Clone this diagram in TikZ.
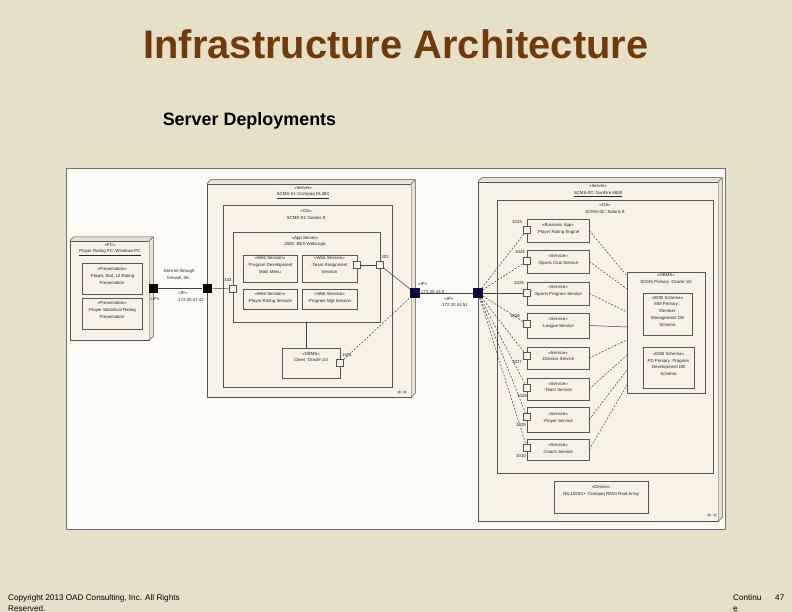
\documentclass[tikz,border=0pt]{standalone}
\usepackage{fontspec}
\setmainfont{Liberation Sans}
\usetikzlibrary{calc,fit,shadows}
\definecolor{bg}{RGB}{231,224,200}
\definecolor{framec}{RGB}{253,251,245}
\definecolor{cream}{RGB}{247,241,230}
\definecolor{creamd}{RGB}{232,224,208}
\definecolor{titlec}{RGB}{110,58,14}
\definecolor{navy}{RGB}{12,12,60}
\definecolor{edge}{RGB}{85,85,85}
\tikzset{
 box/.style={draw=edge, line width=0.5bp, fill=cream, inner sep=0pt},
 sbox/.style={box, drop shadow={shadow xshift=1bp, shadow yshift=-1bp, fill=black, opacity=0.25}},
 tiny/.style={font=\fontsize{4.4}{6.8}\selectfont, align=center, inner sep=0pt, text=black!85},
 port/.style={draw=edge, line width=0.5bp, fill=cream, minimum size=7bp, inner sep=0pt},
 bport/.style={fill=black, minimum size=9bp, inner sep=0pt},
 nport/.style={fill=navy, draw=navy, minimum size=9bp, inner sep=0pt},
 conn/.style={line width=0.5bp, draw=black!75},
 dconn/.style={conn, dash pattern=on 2bp off 1.5bp},
}
\newcommand\threed[2]{%
 \fill[creamd] (#1.north west) -- ++(#2,-#2) -- ($(#1.north east)+(#2,-#2)$) -- ($(#1.south east)+(#2,-#2)$) -- (#1.south east) -- (#1.north east) -- cycle;
 \draw[edge, line width=0.5bp] (#1.north west) -- ++(#2,-#2) -- ($(#1.north east)+(#2,-#2)$) -- ($(#1.south east)+(#2,-#2)$) -- (#1.south east) (#1.north east) -- ++(#2,-#2);}
\newcommand\compicon[2]{%
 \draw[edge, line width=0.4bp] (#1-3,#2) circle[radius=1.3bp] (#1+3,#2) circle[radius=1.3bp] (#1-1.7,#2) -- (#1+1.7,#2);}
\begin{document}
\begin{tikzpicture}[x=1bp,y=-1bp]
\useasboundingbox (0,0) rectangle (792,612);
\fill[bg] (0,0) rectangle (792,612);
\node[font=\fontsize{40}{40}\selectfont\bfseries, text=titlec] (title) at (396,44) {Infrastructure Architecture};
\node[font=\fontsize{18}{18}\selectfont\bfseries] (sub) at (249.5,121) {Server Deployments};
\node[anchor=base west, font=\fontsize{8.2}{12}\selectfont, align=left, inner sep=0pt] (copy) at (8,600) {Copyright 2013 OAD Consulting, Inc. All Rights};
\node[anchor=base west, font=\fontsize{8.2}{12}\selectfont, inner sep=0pt] (copy2) at (8,611) {Reserved.};
\node[anchor=base west, font=\fontsize{8.2}{12}\selectfont, inner sep=0pt] (cont) at (733,600) {Continu};
\node[anchor=base west, font=\fontsize{8.2}{12}\selectfont, inner sep=0pt] (cont2) at (733,611) {e};
\node[anchor=base west, font=\fontsize{8.2}{12}\selectfont, inner sep=0pt] (pg) at (775,600) {47};

% frame
\node[draw=black!55, fill=framec, line width=0.8bp, fit={(66,168) (725,529)}, inner sep=0pt] (frm) {};

% PC
\node[box, fit={(70,241) (149,340)}] (pc) {};
\threed{pc}{4}
\node[tiny] (pct) at (110,249.5) {«PC»\\\underline{Player Rating PC::Windows PC}};
\node[sbox, fit={(82,263) (142,294)}] (pres1) {};
\node[tiny] (pres1t) at (112,276) {«Presentation»\\:Player, Stat, Lit Rating\\Presentation};
\node[sbox, fit={(82,298) (142,329)}] (pres2) {};
\node[tiny] (pres2t) at (112,310) {«Presentation»\\:Player Statistical Rating\\Presentation};

% server 1
\node[box, fit={(207,184) (411,397)}] (srv1) {};
\threed{srv1}{4}
\node[tiny] (srv1t) at (303,192.5) {«Server»\\\underline{SCMS-01::Compaq DL38X}};
\node[box, fit={(223,205) (392,387)}] (os1) {};
\node[tiny] (os1t) at (306,214.5) {«OS»\\SCMS-01::Solaris 9};
\node[box, fit={(233,232) (380,322)}] (app) {};
\node[tiny] (appt) at (305,241.5) {«App Server»\\J2EE::BEA WebLogic};
\node[sbox, fit={(243,255) (297,282)}] (ws1) {};
\node[tiny] (ws1t) at (270,265) {«Web Session»\\:Program Development\\Main Menu};
\node[sbox, fit={(302,255) (357,282)}] (ws2) {};
\node[tiny] (ws2t) at (329.5,265) {«Web Session»\\:Team Assignment\\Session};
\node[sbox, fit={(243,289) (297,309)}] (ws3) {};
\node[tiny] (ws3t) at (270,298) {«Web Session»\\:Player Rating Session};
\node[sbox, fit={(302,289) (357,309)}] (ws4) {};
\node[tiny] (ws4t) at (329.5,298) {«Web Session»\\:Program Mgt Session};
\node[box, fit={(282,348) (340,378)}] (db1) {};
\node[tiny] (db1t) at (311,357) {«DBMS»\\Client :Oracle 10i};
\compicon{402}{392}

% server 2
\node[box, fit={(478,182) (718,521)}] (srv2) {};
\threed{srv2}{4}
\node[tiny] (srv2t) at (598,190.5) {«Server»\\\underline{SCMS-0C::SunFire 6800}};
\node[box, fit={(497,200) (713,473)}] (os2) {};
\node[tiny] (os2t) at (605,208.5) {«OS»\\SCMS-0C::Solaris 9};

\node[sbox, fit={(527,219) (589,242)}] (sv1) {};
\node[tiny] (sv1t) at (558,228.5) {«Business App»\\:Player Rating Engine};
\node[sbox, fit={(527,250) (589,273)}] (sv2) {};
\node[tiny] (sv2t) at (558,260) {«Service»\\:Sports Club Service};
\node[sbox, fit={(527,282) (589,305)}] (sv3) {};
\node[tiny] (sv3t) at (558,291) {«Service»\\:Sports Program Service};
\node[sbox, fit={(527,313) (589,338)}] (sv4) {};
\node[tiny] (sv4t) at (558,323) {«Service»\\:League Service};
\node[sbox, fit={(527,347) (589,369)}] (sv5) {};
\node[tiny] (sv5t) at (558,356) {«Service»\\:Division Service};
\node[sbox, fit={(527,378) (589,400)}] (sv6) {};
\node[tiny] (sv6t) at (558,387) {«Service»\\:Team Service};
\node[sbox, fit={(527,407) (589,432)}] (sv7) {};
\node[tiny] (sv7t) at (558,417.5) {«Service»\\:Player Service};
\node[sbox, fit={(527,439) (589,460)}] (sv8) {};
\node[tiny] (sv8t) at (558,448.5) {«Service»\\:Coach Service};

\node[box, fit={(627,272) (705,393)}] (db2) {};
\node[tiny] (db2t) at (666,279) {«DBMS»\\SCMS Primary :Oracle 10i};
\node[sbox, fit={(643,293) (692,335)}] (edb1) {};
\node[tiny] (edb1t) at (667.5,311) {«EDB Schema»\\MM Primary :\\Member\\Management DB\\Schema};
\node[sbox, fit={(643,347) (694,388)}] (edb2) {};
\node[tiny] (edb2t) at (668.5,364) {«EDB Schema»\\PD Primary :Program\\Development DB\\Schema};

\node[box, fit={(554,481) (648,513)}] (stor) {};
\node[tiny] (stort) at (601,490.5) {«Device»\\NS-1520X+ :Compaq RA04 Raid Array};
\compicon{712}{515}

% ports server 1
\node[port] (ws2p) at (357,265) {};
\node[port] (appr) at (380,265) {};
\node[port] (appl) at (233,289) {};
\node[port] (db1p) at (340,363) {};
\node[tiny] (l301) at (385,257) {301};
\node[tiny] (l443) at (228,280) {443};
\node[tiny] (l1521) at (347,355) {1521};

% external ports
\node[bport] (pcp) at (153,288) {};
\node[bport] (s1l) at (207,288) {};
\node[nport] (s1r) at (415,293) {};
\node[nport] (s2l) at (478,293) {};
\node[tiny] (ippc) at (155,299) {«IP»};
\node[tiny] (inet) at (179,275) {Internet through\\firewall, etc.};
\node[tiny] (ipa1) at (183,293) {«IP»};
\node[tiny] (ipa2) at (191,300) {172.30.47.42};
\node[tiny, anchor=west] (ipb1) at (418,284) {«IP»};
\node[tiny, anchor=west] (ipb2) at (421,292) {172.30.44.5};
\node[tiny] (ipc1) at (449,299) {«IP»};
\node[tiny] (ipc2) at (455,305) {172.30.44.51};

% service ports
\node[port] (p1) at (527,230) {};
\node[port] (p2) at (527,261) {};
\node[port] (p3) at (527,293) {};
\node[port] (p4) at (527,324) {};
\node[port] (p5) at (527,356) {};
\node[port] (p6) at (527,388) {};
\node[port] (p7) at (527,417) {};
\node[port] (p8) at (527,448) {};
\node[tiny] (n1) at (517,222) {1023};
\node[tiny] (n2) at (520,252) {1024};
\node[tiny] (n3) at (519,283) {1025};
\node[tiny] (n4) at (515,316) {1026};
\node[tiny] (n5) at (517,362) {1027};
\node[tiny] (n6) at (522,396) {1028};
\node[tiny] (n7) at (521,425) {1029};
\node[tiny] (n8) at (521,456) {1030};

\coordinate (d1) at (627,276);
\coordinate (d2) at (627,289);
\coordinate (d3) at (627,312);
\coordinate (d4) at (627,327);
\coordinate (d5) at (627,340);
\coordinate (d6) at (627,355);
\coordinate (d7) at (627,370);
\coordinate (d8) at (627,385);

% connectors
\draw[conn] (pcp) -- (s1l);
\draw[conn] (s1l) -- (appl);
\draw[conn] (ws2p) -- (appr);
\draw[conn] (appr) -- (s1r);
\draw[conn] (app.south) -- (app.south |- db1.north);
\draw[dconn] (db1p) -- (s1r);
\draw[conn] (s1r) -- (s2l);
\draw[dconn] (s2l) -- (p1);
\draw[dconn] (s2l) -- (p2);
\draw[conn] (s2l) -- (p3);
\draw[dconn] (s2l) -- (p4);
\draw[dconn] (s2l) -- (p5);
\draw[dconn] (s2l) -- (p6);
\draw[dconn] (s2l) -- (p7);
\draw[dconn] (s2l) -- (p8);
\draw[dconn] (sv1.east) -- (d1);
\draw[dconn] (sv2.east) -- (d2);
\draw[dconn] (sv3.east) -- (d3);
\draw[conn] (sv4.east) -- (d4);
\draw[dconn] (sv5.east) -- (d5);
\draw[dconn] (sv6.east) -- (d6);
\draw[dconn] (sv7.east) -- (d7);
\draw[dconn] (sv8.east) -- (d8);
\end{tikzpicture}
\end{document}
